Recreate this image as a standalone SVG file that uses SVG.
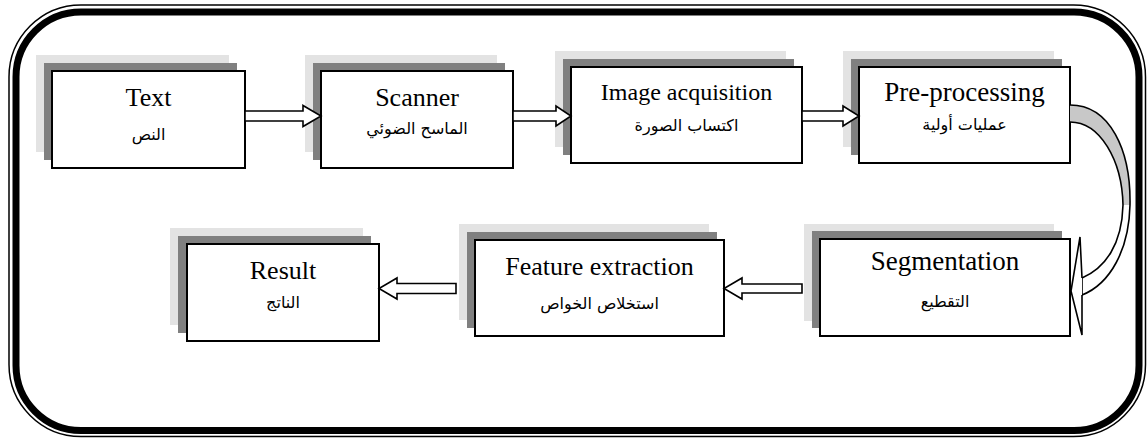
<svg xmlns="http://www.w3.org/2000/svg" width="1147" height="440" viewBox="0 0 1147 440">
<style>
.l{fill:#e3e3e3}
.d{fill:#808080}
.b{fill:#fff;stroke:#000;stroke-width:2}
.en{font-family:"Liberation Serif","Times New Roman",serif;font-size:26px;fill:#000;text-anchor:middle}
.ar{font-family:"DejaVu Sans","Noto Sans",sans-serif;font-size:16px;fill:#000;text-anchor:middle}
.ba{fill:#fff;stroke:#000;stroke-width:1.6;stroke-linejoin:miter}
</style>
<rect width="1147" height="440" fill="#fff"/>
<g id="frame" fill="none" stroke="#000">
<rect x="9" y="5" width="1136.5" height="431.5" rx="72" stroke-width="1.5"/>
<rect x="16" y="12" width="1123" height="418.5" rx="65" stroke-width="7"/>
</g>
<g id="node-text">
<rect class="l" x="36" y="55" width="193" height="97"/>
<rect class="d" x="44" y="63" width="193" height="97"/>
<rect class="b" x="52" y="71" width="193" height="97"/>
<text class="en" x="148.5" y="106">Text</text>
<text class="ar" x="148.5" y="140" direction="rtl">النص</text>
</g>
<g id="node-scanner">
<rect class="l" x="305" y="55" width="192" height="97"/>
<rect class="d" x="313" y="63" width="192" height="97"/>
<rect class="b" x="321" y="71" width="192" height="97"/>
<text class="en" x="417" y="106">Scanner</text>
<text class="ar" x="417" y="134" direction="rtl">الماسح الضوئي</text>
</g>
<g id="node-image">
<rect class="l" x="555" y="51" width="231" height="96"/>
<rect class="d" x="563" y="59" width="231" height="96"/>
<rect class="b" x="571" y="67" width="231" height="96"/>
<text class="en" x="686.5" y="100" style="font-size:24px">Image acquisition</text>
<text class="ar" x="686.5" y="131" direction="rtl">اكتساب الصورة</text>
</g>
<g id="node-pre">
<rect class="l" x="843" y="51" width="211" height="96"/>
<rect class="d" x="851" y="59" width="211" height="96"/>
<rect class="b" x="859" y="67" width="211" height="96"/>
<text class="en" x="964.5" y="101" style="font-size:27px">Pre-processing</text>
<text class="ar" x="964.5" y="130" direction="rtl">عمليات أولية</text>
</g>
<g id="node-seg">
<rect class="l" x="804" y="224" width="250" height="97"/>
<rect class="d" x="812" y="231" width="250" height="97"/>
<rect class="b" x="820" y="239" width="250" height="97"/>
<text class="en" x="945" y="270" style="font-size:27px">Segmentation</text>
<text class="ar" x="945" y="307" direction="rtl">التقطيع</text>
</g>
<g id="node-feature">
<rect class="l" x="459" y="224" width="250" height="96"/>
<rect class="d" x="467" y="232" width="250" height="96"/>
<rect class="b" x="475" y="240" width="249" height="96"/>
<text class="en" x="599.5" y="275">Feature extraction</text>
<text class="ar" x="599.5" y="309" direction="rtl">استخلاص الخواص</text>
</g>
<g id="node-result">
<rect class="l" x="170" y="228" width="193" height="97"/>
<rect class="d" x="178" y="236" width="193" height="97"/>
<rect class="b" x="187" y="244" width="192" height="97"/>
<text class="en" x="283" y="279">Result</text>
<text class="ar" x="283" y="308" direction="rtl">الناتج</text>
</g>
<g id="connectors">
<path class="ba" d="M245,111 H303 V105.5 L321,116 L303,126.5 V121 H245 Z"/>
<path class="ba" d="M513,111 H556 V106 L571,116 L556,126 V121 H513 Z"/>
<path class="ba" d="M802,111 H843 V106 L859,116 L843,126 V121 H802 Z"/>
<path class="ba" d="M802,284 H742 V278 L724,288.5 L742,299 V293 H802 Z"/>
<path class="ba" d="M456,283.5 H397 V278 L379,288.5 L397,299 V293.5 H456 Z"/>
<g id="curved-arrow">
<path d="M1070,105 C1110,105 1131,150 1130,205 L1123,205 C1122,160 1100,122 1070,122 Z" fill="#c8c8c8"/>
<path d="M1070,105 C1110,105 1131,150 1130,205 C1129,250 1110,284 1082,295 L1082,278 C1105,268 1122,245 1123,205 C1122,160 1100,122 1070,122" fill="none" stroke="#000" stroke-width="1.6"/>
<path class="ba" d="M1082,278 L1080,237 L1071,291 L1082,335 L1082,295"/>
</g>
</g>
</svg>
